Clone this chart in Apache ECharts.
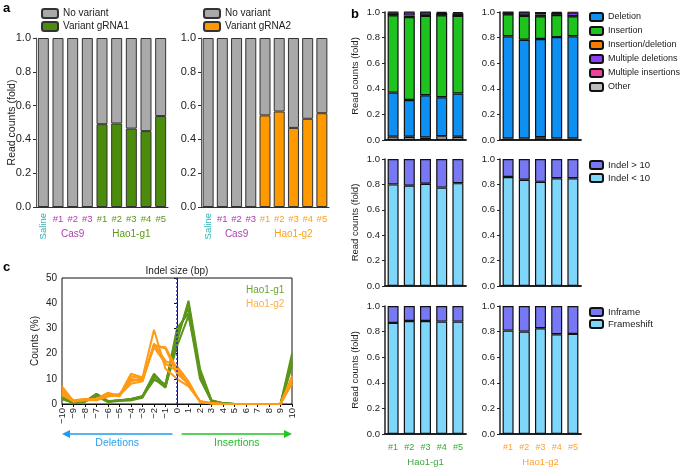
<!DOCTYPE html>
<html><head><meta charset="utf-8">
<script src="https://cdn.jsdelivr.net/npm/echarts@6/dist/echarts.min.js"></script>
<style>html,body{margin:0;padding:0;background:#fff}#c{width:685px;height:467px}</style>
</head><body><div id="c"></div><script>
const FONT = '"Liberation Sans", Arial, Helvetica, sans-serif';

// ---------- Panel a data ----------
const aCatKeys = ['Saline', 'C#1', 'C#2', 'C#3', 'G#1', 'G#2', 'G#3', 'G#4', 'G#5'];
const aTickLabels = ['', '#1', '#2', '#3', '#1', '#2', '#3', '#4', '#5'];
const aVariantG1 = [0, 0, 0, 0, 0.49, 0.494, 0.464, 0.449, 0.538];
const aNoVariantG1 = [1, 1, 1, 1, 0.51, 0.506, 0.536, 0.551, 0.462];
const aVariantG2 = [0, 0, 0, 0, 0.542, 0.565, 0.468, 0.522, 0.555];
const aNoVariantG2 = [1, 1, 1, 1, 0.458, 0.435, 0.532, 0.478, 0.445];

// ---------- Panel b data ----------
const bCats = ['#1', '#2', '#3', '#4', '#5'];
// Hao1-g1 outcome types
const g1Other = [0.026, 0.025, 0.02, 0.03, 0.025];
const g1Deletion = [0.344, 0.288, 0.33, 0.304, 0.338];
const g1Insertion = [0.604, 0.647, 0.62, 0.64, 0.607];
const g1InsDel = [0.003, 0.012, 0.003, 0.002, 0.003];
const g1MultDel = [0.02, 0.025, 0.025, 0.017, 0.018];
const g1MultIns = [0.003, 0.003, 0.002, 0.007, 0.009];
// Hao1-g2 outcome types
const g2Other = [0.012, 0.012, 0.022, 0.012, 0.012];
const g2Deletion = [0.798, 0.771, 0.767, 0.792, 0.798];
const g2Insertion = [0.172, 0.188, 0.177, 0.173, 0.156];
const g2InsDel = [0.002, 0.002, 0.002, 0.002, 0.002];
const g2MultDel = [0.014, 0.025, 0.012, 0.014, 0.028];
const g2MultIns = [0.002, 0.002, 0.02, 0.007, 0.004];
// Indel size classes
const g1IndelLt10 = [0.80, 0.79, 0.805, 0.775, 0.81];
const g1IndelGt10 = [0.20, 0.21, 0.195, 0.225, 0.19];
const g2IndelLt10 = [0.858, 0.837, 0.82, 0.848, 0.848];
const g2IndelGt10 = [0.142, 0.163, 0.18, 0.152, 0.152];
// Frame
const g1Frameshift = [0.868, 0.883, 0.883, 0.878, 0.878];
const g1Inframe = [0.132, 0.117, 0.117, 0.122, 0.122];
const g2Frameshift = [0.808, 0.80, 0.826, 0.779, 0.782];
const g2Inframe = [0.192, 0.20, 0.174, 0.221, 0.218];

// ---------- Panel c data ----------
const indelSizes = [-10, -9, -8, -7, -6, -5, -4, -3, -2, -1, 0, 1, 2, 3, 4, 5, 6, 7, 8, 9, 10];
const cG1a = [3, 0.5, 1, 4, 1, 1.5, 1.5, 3, 12, 7, 25, 41, 14, 1.5, 0.3, 0, 0, 0, 0, 0, 20];
const cG1b = [2, 0.5, 1, 3.5, 1, 1.5, 2, 3, 10, 6.5, 28, 38, 12, 1, 0.3, 0, 0, 0, 0, 0, 17];
const cG1c = [2.5, 0.3, 1, 3, 0.8, 1.2, 1.5, 2.5, 11, 7.5, 30, 36, 10, 1, 0.2, 0, 0, 0, 0, 0, 15];
const cG1d = [2, 0.5, 1.2, 3.5, 1, 1.5, 1.8, 3, 9.5, 8, 26, 40, 11, 1.2, 0.3, 0, 0, 0, 0, 0, 18];
const cG1e = [3, 0.6, 1, 4, 1.2, 1.4, 2, 3.2, 11.5, 6.8, 23, 35, 13, 1.3, 0.3, 0, 0, 0, 0, 0, 16];
const cG2a = [7, 1, 2, 2, 4, 3.5, 12, 10.5, 29.5, 14, 10, 7, 1, 0.3, 0, 0, 0, 0, 0, 0, 11];
const cG2b = [4, 1, 1.5, 1.5, 3, 3.5, 10, 9, 23.5, 22, 12, 8, 1, 0.3, 0, 0, 0, 0, 0, 0, 10];
const cG2c = [5, 1.5, 2, 1.5, 3.5, 3.5, 8, 9, 24, 17, 15, 9, 0.8, 0.2, 0, 0, 0, 0, 0, 0, 9];
const cG2d = [3.5, 1, 1.5, 2, 3.5, 4, 9, 10, 22.5, 16, 13, 8, 1, 0.3, 0, 0, 0, 0, 0, 0, 8];
const cG2e = [6, 1, 2, 2, 4.5, 3, 11, 10, 23, 22.5, 14, 7.5, 1.2, 0.3, 0, 0, 0, 0, 0, 0, 10.5];

// ---------- styles ----------
const TEAL = '#2fb0b0', PURPLE = '#b03cb0', GREEN_A = '#5a9a18', ORANGE_A = '#ffa21a';
const GREEN_B = '#3aa83a', ORANGE_B = '#ffa233';
const C = {
  gray: '#a9a9a9', varG1: '#4c8c0c', varG2: '#ff9900',
  del: '#0e8ff2', ins: '#1ec41e', insdel: '#f77c00', mdel: '#8a3ff0', mins: '#f0409a', other: '#bcbcbc',
  gt10: '#7878f5', lt10: '#7ed6fa', lineG1: '#5b961a', lineG2: '#ff9a14'
};

const grids = [
  { left: 36, top: 38, width: 132, height: 169 },
  { left: 201, top: 38, width: 128, height: 169 },
  { left: 385, top: 12, width: 81, height: 128 },
  { left: 500, top: 12, width: 81, height: 128 },
  { left: 385, top: 159, width: 81, height: 127 },
  { left: 500, top: 159, width: 81, height: 127 },
  { left: 385, top: 306, width: 81, height: 128 },
  { left: 500, top: 306, width: 81, height: 128 },
  { left: 62, top: 278, width: 230, height: 126, show: true, borderColor: '#111', borderWidth: 1 }
];

const xAxes = [], yAxes = [];
function aColors(grp) { return aCatKeys.map((k, i) => i === 0 ? TEAL : (i < 4 ? PURPLE : grp)); }
[[0, GREEN_A], [1, ORANGE_A]].forEach(([gi, col]) => {
  const cols = aColors(col);
  xAxes.push({
    gridIndex: gi, type: 'category',
    data: aCatKeys.map((k, i) => ({ value: k, textStyle: { color: cols[i] } })),
    axisLabel: { interval: 0, fontSize: 9.5, margin: 7, formatter: (v, i) => aTickLabels[i] },
    axisTick: { alignWithLabel: true, length: 3, lineStyle: { color: '#333' } },
    axisLine: { lineStyle: { color: '#333', width: 1 } }
  });
  yAxes.push({
    gridIndex: gi, type: 'value', min: 0, max: 1, interval: 0.2,
    name: gi === 0 ? 'Read counts (fold)' : '', nameLocation: 'middle', nameGap: 18, nameMoveOverlap: false,
    nameTextStyle: { fontSize: 10.5, color: '#222' },
    axisLabel: { fontSize: 11, color: '#222', margin: 5, formatter: v => v.toFixed(1) },
    axisLine: { show: true, lineStyle: { color: '#555' } },
    axisTick: { show: true, length: 3, lineStyle: { color: '#333' } },
    splitLine: { show: false }
  });
});
for (let gi = 2; gi < 8; gi++) {
  const bottom = gi >= 6;
  const isG1 = gi % 2 === 0;
  const col = isG1 ? GREEN_B : ORANGE_B;
  xAxes.push({
    gridIndex: gi, type: 'category', data: bCats,
    axisLabel: { show: bottom, interval: 0, fontSize: 9, margin: 9, color: col },
    axisTick: { alignWithLabel: true, length: 3, lineStyle: { color: '#222', width: 1.2 } },
    axisLine: { lineStyle: { color: '#222', width: 1.8 } }
  });
  yAxes.push({
    gridIndex: gi, type: 'value', min: 0, max: 1, interval: 0.2,
    name: isG1 ? 'Read counts (fold)' : '', nameLocation: 'middle', nameGap: 25,
    nameTextStyle: { fontSize: 9.5, color: '#222' },
    axisLabel: { fontSize: 9.5, color: '#222', margin: 5, formatter: v => v.toFixed(1) },
    axisLine: { show: true, lineStyle: { color: '#222', width: 1.5 } },
    axisTick: { show: true, length: 3, lineStyle: { color: '#222' } },
    splitLine: { show: false }
  });
}
xAxes.push({
  gridIndex: 8, type: 'value', min: -10, max: 10, interval: 1,
  axisLabel: { fontSize: 9.5, color: '#222', rotate: 90, margin: 4, formatter: v => String(v).replace('-', '\u2212') },
  axisLine: { lineStyle: { color: '#111' } },
  axisTick: { length: 3, lineStyle: { color: '#111' } },
  splitLine: { show: false }
});
yAxes.push({
  gridIndex: 8, type: 'value', min: 0, max: 50, interval: 10,
  name: 'Counts (%)', nameLocation: 'middle', nameGap: 22,
  nameTextStyle: { fontSize: 10, color: '#222' },
  axisLabel: { fontSize: 10, color: '#222', margin: 5 },
  axisLine: { show: true, lineStyle: { color: '#111' } },
  axisTick: { show: true, length: 3, lineStyle: { color: '#111' } },
  splitLine: { show: false }
});

const series = [];
function bar(name, gi, stack, data, color, bw, bc) {
  series.push({
    type: 'bar', name, xAxisIndex: gi, yAxisIndex: gi, stack, data, barWidth: 11,
    itemStyle: { color, borderColor: bc, borderWidth: bw }
  });
}
bar('Variant gRNA1', 0, 'a1', aVariantG1, C.varG1, 1, '#333');
bar('No variant', 0, 'a1', aNoVariantG1, C.gray, 1, '#333');
bar('Variant gRNA2', 1, 'a2', aVariantG2, C.varG2, 1, '#333');
bar('No variant', 1, 'a2', aNoVariantG2, C.gray, 1, '#333');

[[2, g1Other, g1Deletion, g1Insertion, g1InsDel, g1MultDel, g1MultIns],
 [3, g2Other, g2Deletion, g2Insertion, g2InsDel, g2MultDel, g2MultIns]].forEach(([gi, o, d, ins, id, md, mi]) => {
  const s = 'b' + gi;
  bar('Other', gi, s, o, C.other, 1.2, '#111');
  bar('Deletion', gi, s, d, C.del, 1.2, '#111');
  bar('Insertion', gi, s, ins, C.ins, 1.2, '#111');
  bar('Insertion/deletion', gi, s, id, C.insdel, 1.2, '#111');
  bar('Multiple deletions', gi, s, md, C.mdel, 1.2, '#111');
  bar('Multiple insertions', gi, s, mi, C.mins, 1.2, '#111');
});
bar('Indel < 10', 4, 'b4', g1IndelLt10, C.lt10, 1.2, '#111');
bar('Indel > 10', 4, 'b4', g1IndelGt10, C.gt10, 1.2, '#111');
bar('Indel < 10', 5, 'b5', g2IndelLt10, C.lt10, 1.2, '#111');
bar('Indel > 10', 5, 'b5', g2IndelGt10, C.gt10, 1.2, '#111');
bar('Frameshift', 6, 'b6', g1Frameshift, C.lt10, 1.2, '#111');
bar('Inframe', 6, 'b6', g1Inframe, C.gt10, 1.2, '#111');
bar('Frameshift', 7, 'b7', g2Frameshift, C.lt10, 1.2, '#111');
bar('Inframe', 7, 'b7', g2Inframe, C.gt10, 1.2, '#111');

function line(name, arr, color, extra) {
  series.push(Object.assign({
    type: 'line', name, xAxisIndex: 8, yAxisIndex: 8, showSymbol: false, symbol: 'none',
    data: indelSizes.map((x, i) => [x, arr[i]]),
    lineStyle: { color, width: 2 }, itemStyle: { color }
  }, extra || {}));
}
line('Hao1-g1', cG1a, C.lineG1, {
  markLine: {
    silent: true, symbol: ['none', 'none'], label: { show: false },
    lineStyle: { color: '#2b2bbb', type: [2, 2], width: 1.5 }, data: [{ xAxis: 0 }]
  }
});
[cG1b, cG1c, cG1d, cG1e].forEach(a => line('Hao1-g1', a, C.lineG1));
[cG2a, cG2b, cG2c, cG2d, cG2e].forEach(a => line('Hao1-g2', a, C.lineG2));

const legBase = { orient: 'vertical', selectedMode: false, padding: 0 };
const legend = [
  Object.assign({}, legBase, { data: ['No variant', 'Variant gRNA1'], left: 41, top: 8, itemWidth: 16, itemHeight: 9, itemGap: 2, textStyle: { fontSize: 10, color: '#222', fontFamily: FONT } }),
  Object.assign({}, legBase, { data: ['No variant', 'Variant gRNA2'], left: 203, top: 8, itemWidth: 16, itemHeight: 9, itemGap: 2, textStyle: { fontSize: 10, color: '#222', fontFamily: FONT } }),
  Object.assign({}, legBase, { data: ['Deletion', 'Insertion', 'Insertion/deletion', 'Multiple deletions', 'Multiple insertions', 'Other'], left: 589, top: 12, itemWidth: 13, itemHeight: 8, itemGap: 4, textStyle: { fontSize: 9, color: '#222', fontFamily: FONT } }),
  Object.assign({}, legBase, { data: ['Indel > 10', 'Indel < 10'], left: 589, top: 160, itemWidth: 13, itemHeight: 8, itemGap: 3, textStyle: { fontSize: 9.5, color: '#222', fontFamily: FONT } }),
  Object.assign({}, legBase, { data: ['Inframe', 'Frameshift'], left: 589, top: 307, itemWidth: 13, itemHeight: 8, itemGap: 2, textStyle: { fontSize: 9.5, color: '#222', fontFamily: FONT } }),
  Object.assign({}, legBase, {
    data: [{ name: 'Hao1-g1', textStyle: { color: '#6ba332' } }, { name: 'Hao1-g2', textStyle: { color: '#ffac4a' } }],
    left: 239, top: 285, icon: 'rect', itemWidth: 2, itemHeight: 2, itemGap: 4,
    itemStyle: { opacity: 0 }, lineStyle: { opacity: 0 },
    textStyle: { fontSize: 10, fontFamily: FONT }
  })
];

const chart = echarts.init(document.getElementById('c'), null, { renderer: 'canvas' });
chart.setOption({
  animation: false,
  backgroundColor: '#fff',
  textStyle: { fontFamily: FONT },
  grid: grids, xAxis: xAxes, yAxis: yAxes, legend, series
});

// ---------- annotations positioned from the axes ----------
const gfx = [];
function txt(x, y, text, color, size, opts) {
  gfx.push(Object.assign({
    type: 'text', x, y, silent: true,
    style: Object.assign({ text, fill: color, font: size + 'px ' + FONT, align: 'center', verticalAlign: 'middle' }, (opts && opts.style) || {})
  }, (opts && opts.el) || {}));
}
[[0, GREEN_A, 'Hao1-g1'], [1, ORANGE_A, 'Hao1-g2']].forEach(([xi, col, lab]) => {
  const sx = chart.convertToPixel({ xAxisIndex: xi }, 'Saline');
  txt(sx, 213, 'Saline', TEAL, 9.5, { style: { align: 'right' }, el: { rotation: Math.PI / 2 } });
  txt(chart.convertToPixel({ xAxisIndex: xi }, 'C#2'), 234, 'Cas9', PURPLE, 10);
  txt(chart.convertToPixel({ xAxisIndex: xi }, 'G#3'), 234, lab, col, 10);
});
txt(chart.convertToPixel({ xAxisIndex: 6 }, '#3'), 462, 'Hao1-g1', GREEN_B, 9.5);
txt(chart.convertToPixel({ xAxisIndex: 7 }, '#3'), 462, 'Hao1-g2', ORANGE_B, 9.5);

const c0 = chart.convertToPixel({ gridIndex: 8 }, [0, 50]);
const cL = chart.convertToPixel({ gridIndex: 8 }, [-10, 0]);
const cR = chart.convertToPixel({ gridIndex: 8 }, [10, 0]);
txt(c0[0], 271, 'Indel size (bp)', '#222', 10);
const ay = 434;
const dEnd = chart.convertToPixel({ gridIndex: 8 }, [-0.4, 0])[0];
const iStart = chart.convertToPixel({ gridIndex: 8 }, [0.4, 0])[0];
const BLUE = '#1b9df0', GRN = '#22c322';
gfx.push({ type: 'line', silent: true, shape: { x1: dEnd, y1: ay, x2: cL[0] + 6, y2: ay }, style: { stroke: BLUE, lineWidth: 1.5 } });
gfx.push({ type: 'polygon', silent: true, shape: { points: [[cL[0], ay], [cL[0] + 8, ay - 4], [cL[0] + 8, ay + 4]] }, style: { fill: BLUE } });
gfx.push({ type: 'line', silent: true, shape: { x1: iStart, y1: ay, x2: cR[0] - 6, y2: ay }, style: { stroke: GRN, lineWidth: 1.5 } });
gfx.push({ type: 'polygon', silent: true, shape: { points: [[cR[0], ay], [cR[0] - 8, ay - 4], [cR[0] - 8, ay + 4]] }, style: { fill: GRN } });
txt((cL[0] + dEnd) / 2, 443, 'Deletions', '#2aa0f0', 10.5);
txt((iStart + cR[0]) / 2, 443, 'Insertions', '#22c02a', 10.5);

txt(3, 8, 'a', '#000', 13, { style: { align: 'left', font: 'bold 13px ' + FONT } });
txt(351, 14, 'b', '#000', 13, { style: { align: 'left', font: 'bold 13px ' + FONT } });
txt(3, 267, 'c', '#000', 13, { style: { align: 'left', font: 'bold 13px ' + FONT } });

chart.setOption({ graphic: gfx });
</script></body></html>
